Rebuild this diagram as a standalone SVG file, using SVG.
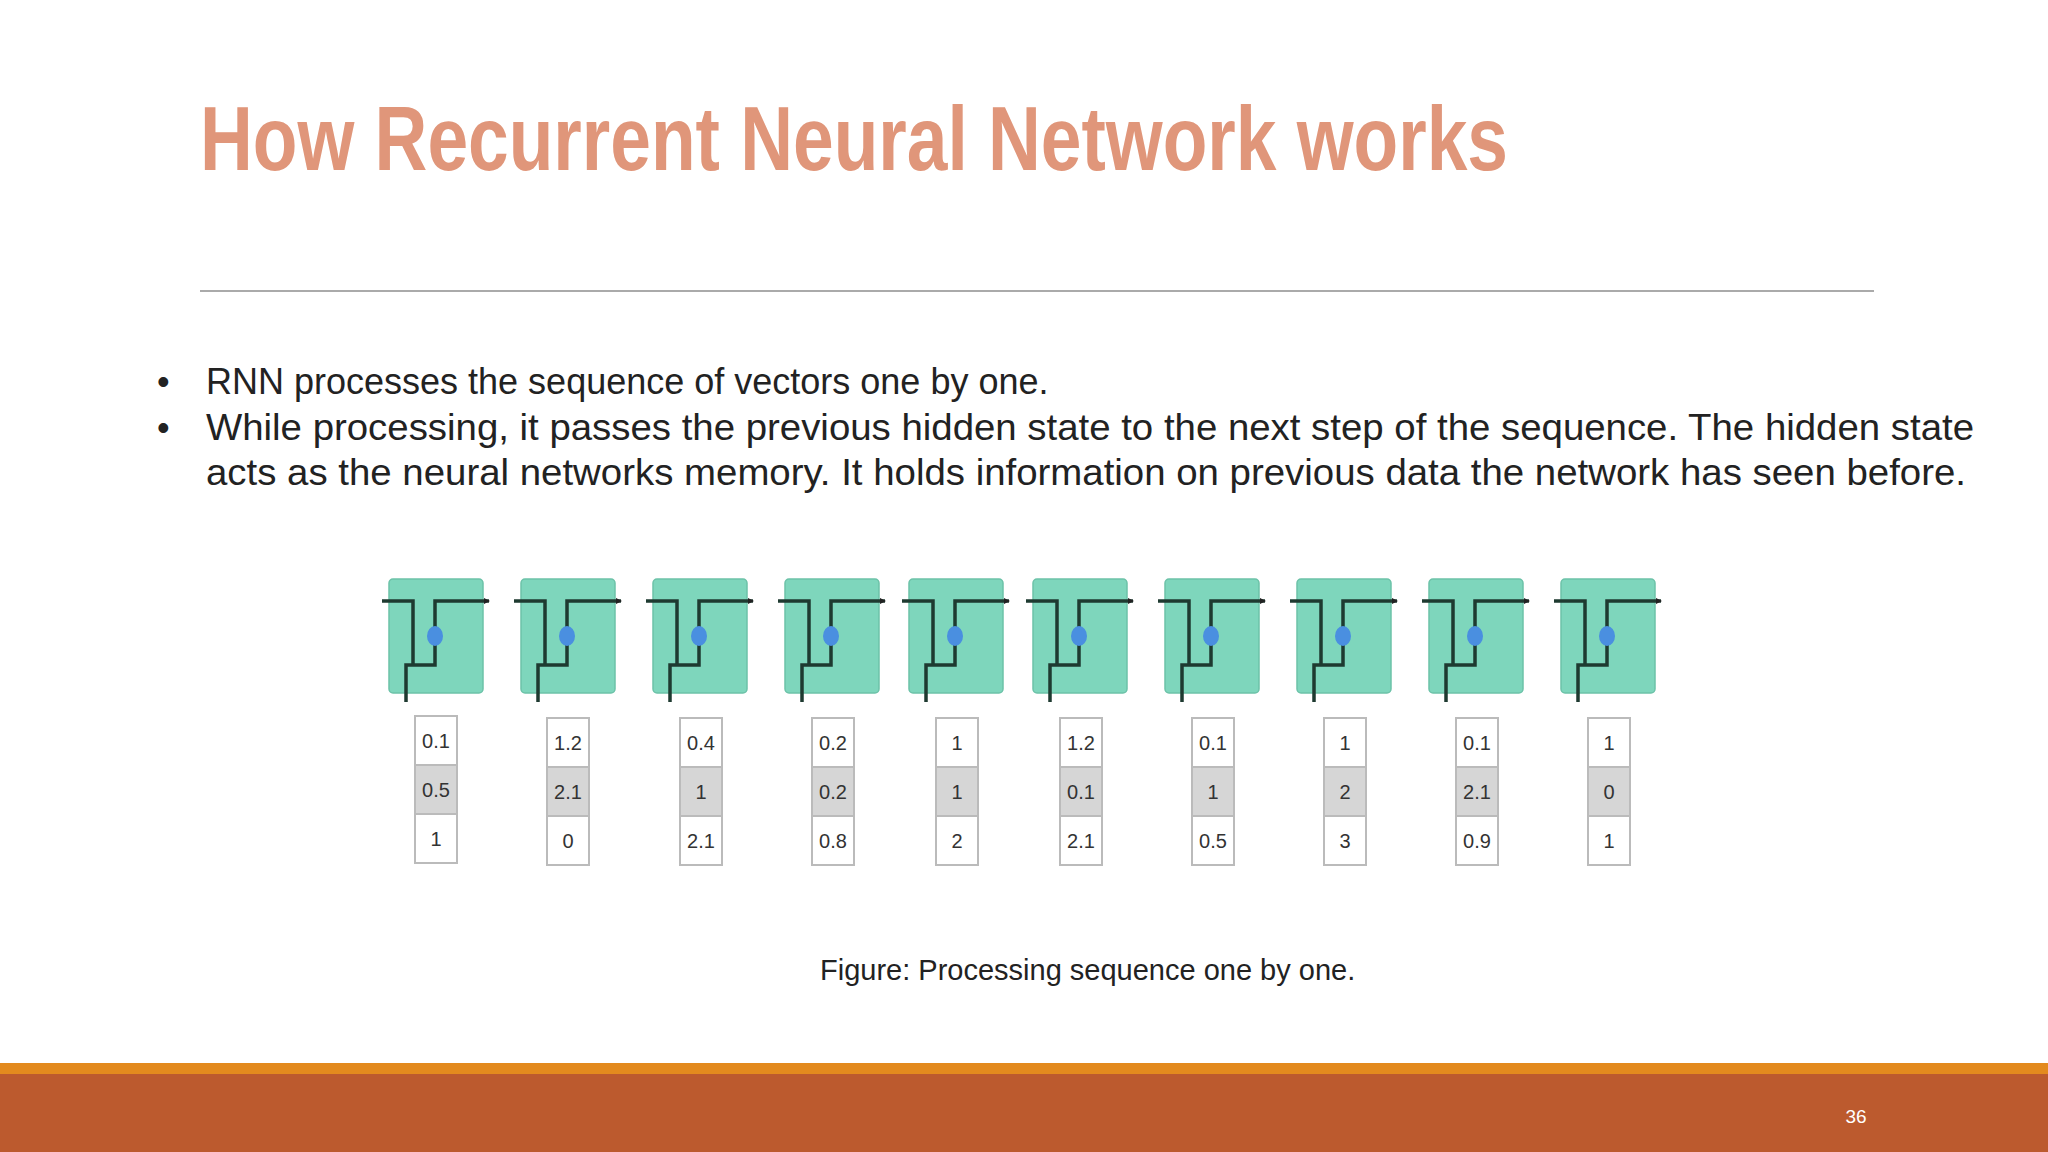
<svg xmlns="http://www.w3.org/2000/svg" width="2048" height="1152" viewBox="0 0 2048 1152">
<defs>
<marker id="ar" markerWidth="6" markerHeight="6" refX="5" refY="3" orient="auto" markerUnits="userSpaceOnUse"><path d="M0,0 L6,3 L0,6 Z" fill="#222"/></marker>
<g id="cell">
<rect x="0" y="0" width="94" height="114" rx="4" fill="#7ED6BC" stroke="#6CC2A8" stroke-width="1.5"/>
<path d="M-7,22 H24 V86 H17 M17,123 V86 H46 V22 H100" fill="none" stroke="#1E3A30" stroke-width="3.5" marker-end="url(#ar)"/>
<ellipse cx="46" cy="57" rx="8" ry="10" fill="#4A8FE0"/>
</g>
</defs>
<style>
.t{font-family:"Liberation Sans",Arial,sans-serif;fill:#222}
.v{font-family:"Liberation Sans",Arial,sans-serif;fill:#333;font-size:20px;text-anchor:middle}
.b{fill:#fff;stroke:#bbb;stroke-width:2}
.g{fill:#d6d6d6;stroke:#bbb;stroke-width:2}
</style>
<rect width="2048" height="1152" fill="#fff"/>
<text x="200" y="170" font-family="Liberation Sans, Arial, sans-serif" font-weight="bold" font-size="90" fill="#E0967A" textLength="1308" lengthAdjust="spacingAndGlyphs">How Recurrent Neural Network works</text>
<line x1="200" y1="291" x2="1874" y2="291" stroke="#aaa" stroke-width="2"/>
<g class="t" font-size="36">
<text x="157" y="394">•</text><text x="206" y="394">RNN processes the sequence of vectors one by one.</text>
<text x="157" y="440">•</text><text x="206" y="440" textLength="1768" lengthAdjust="spacingAndGlyphs">While processing, it passes the previous hidden state to the next step of the sequence. The hidden state</text>
<text x="206" y="485" textLength="1760" lengthAdjust="spacingAndGlyphs">acts as the neural networks memory. It holds information on previous data the network has seen before.</text>
</g>
<g id="cells">
<use href="#cell" x="389" y="579"/><use href="#cell" x="521" y="579"/><use href="#cell" x="653" y="579"/><use href="#cell" x="785" y="579"/><use href="#cell" x="909" y="579"/><use href="#cell" x="1033" y="579"/><use href="#cell" x="1165" y="579"/><use href="#cell" x="1297" y="579"/><use href="#cell" x="1429" y="579"/><use href="#cell" x="1561" y="579"/>
</g>
<g id="vectors">
<g transform="translate(436,716)"><rect class="b" x="-21" y="0" width="42" height="49"/><rect class="g" x="-21" y="49" width="42" height="49"/><rect class="b" x="-21" y="98" width="42" height="49"/><text class="v" y="32">0.1</text><text class="v" y="81">0.5</text><text class="v" y="130">1</text></g>
<g transform="translate(568,718)"><rect class="b" x="-21" y="0" width="42" height="49"/><rect class="g" x="-21" y="49" width="42" height="49"/><rect class="b" x="-21" y="98" width="42" height="49"/><text class="v" y="32">1.2</text><text class="v" y="81">2.1</text><text class="v" y="130">0</text></g>
<g transform="translate(701,718)"><rect class="b" x="-21" y="0" width="42" height="49"/><rect class="g" x="-21" y="49" width="42" height="49"/><rect class="b" x="-21" y="98" width="42" height="49"/><text class="v" y="32">0.4</text><text class="v" y="81">1</text><text class="v" y="130">2.1</text></g>
<g transform="translate(833,718)"><rect class="b" x="-21" y="0" width="42" height="49"/><rect class="g" x="-21" y="49" width="42" height="49"/><rect class="b" x="-21" y="98" width="42" height="49"/><text class="v" y="32">0.2</text><text class="v" y="81">0.2</text><text class="v" y="130">0.8</text></g>
<g transform="translate(957,718)"><rect class="b" x="-21" y="0" width="42" height="49"/><rect class="g" x="-21" y="49" width="42" height="49"/><rect class="b" x="-21" y="98" width="42" height="49"/><text class="v" y="32">1</text><text class="v" y="81">1</text><text class="v" y="130">2</text></g>
<g transform="translate(1081,718)"><rect class="b" x="-21" y="0" width="42" height="49"/><rect class="g" x="-21" y="49" width="42" height="49"/><rect class="b" x="-21" y="98" width="42" height="49"/><text class="v" y="32">1.2</text><text class="v" y="81">0.1</text><text class="v" y="130">2.1</text></g>
<g transform="translate(1213,718)"><rect class="b" x="-21" y="0" width="42" height="49"/><rect class="g" x="-21" y="49" width="42" height="49"/><rect class="b" x="-21" y="98" width="42" height="49"/><text class="v" y="32">0.1</text><text class="v" y="81">1</text><text class="v" y="130">0.5</text></g>
<g transform="translate(1345,718)"><rect class="b" x="-21" y="0" width="42" height="49"/><rect class="g" x="-21" y="49" width="42" height="49"/><rect class="b" x="-21" y="98" width="42" height="49"/><text class="v" y="32">1</text><text class="v" y="81">2</text><text class="v" y="130">3</text></g>
<g transform="translate(1477,718)"><rect class="b" x="-21" y="0" width="42" height="49"/><rect class="g" x="-21" y="49" width="42" height="49"/><rect class="b" x="-21" y="98" width="42" height="49"/><text class="v" y="32">0.1</text><text class="v" y="81">2.1</text><text class="v" y="130">0.9</text></g>
<g transform="translate(1609,718)"><rect class="b" x="-21" y="0" width="42" height="49"/><rect class="g" x="-21" y="49" width="42" height="49"/><rect class="b" x="-21" y="98" width="42" height="49"/><text class="v" y="32">1</text><text class="v" y="81">0</text><text class="v" y="130">1</text></g>
</g>
<text class="t" x="820" y="980" font-size="29">Figure: Processing sequence one by one.</text>
<rect x="0" y="1063" width="2048" height="11" fill="#E38A1E"/>
<rect x="0" y="1074" width="2048" height="78" fill="#BC5A2E"/>
<text x="1856" y="1123" font-family="Liberation Sans, Arial, sans-serif" font-size="19" fill="#fff" text-anchor="middle">36</text>
</svg>
